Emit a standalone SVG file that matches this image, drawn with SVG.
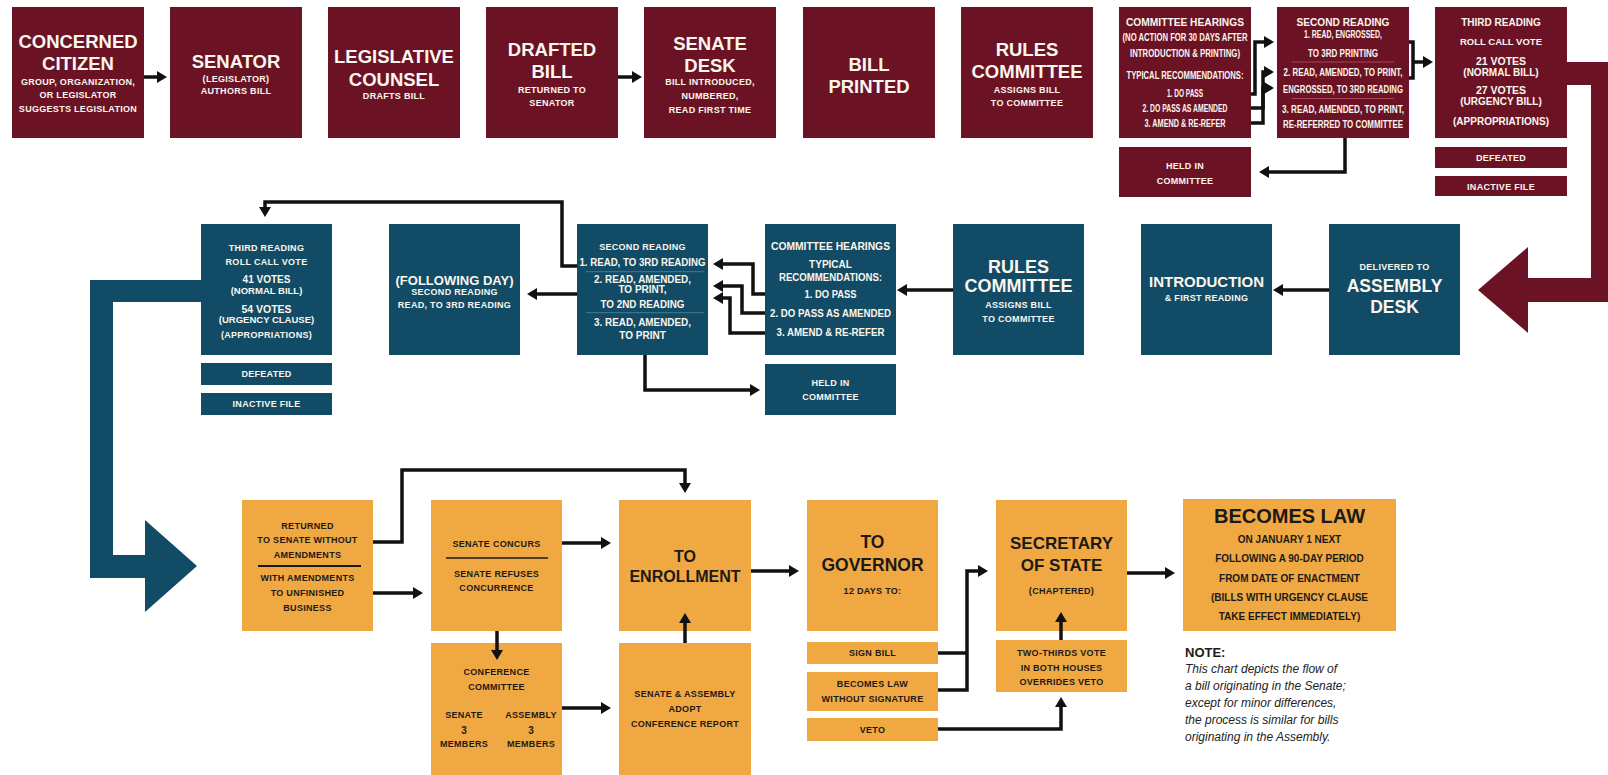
<svg xmlns="http://www.w3.org/2000/svg" width="1608" height="775" viewBox="0 0 1608 775">
<defs>
<style>
text{font-family:"Liberation Sans",Arial,sans-serif;font-weight:bold;text-anchor:middle}
.w{fill:#fbf6ee}
.k{fill:#1c1a17}
.T{font-size:18.5px}
.s{font-size:9px;letter-spacing:.3px}
.c{font-size:10px}
.m{fill:#6b1324}
.b{fill:#124b65}
.o{fill:#f0a843}
.cn path{fill:none;stroke:#111;stroke-width:3.5;stroke-linejoin:miter}
.ar{marker-end:url(#ah)}
.note{font-size:12px;font-style:italic;font-weight:normal;text-anchor:start;fill:#222}
</style>
<marker id="ah" viewBox="0 0 10 12" refX="1" refY="6" markerWidth="10" markerHeight="12" markerUnits="userSpaceOnUse" orient="auto">
<path d="M0,0 L10,6 L0,12 z" fill="#111"/>
</marker>
</defs>
<rect width="1608" height="775" fill="#fff"/>

<!-- big flow arrows -->
<path id="maroon-arrow" class="m" d="M1566,62 H1610 V302 H1528 V333 L1478,290 L1528,247 V278 H1591 V85 H1566 Z"/>
<path id="blue-arrow" class="b" d="M201,280 H90 V578 H145 V612 L197,566 L145,520 V555 H113 V302 H201 Z"/>

<!-- TOP ROW (Senate) -->
<g id="concerned-citizen"><rect class="m" x="12" y="7" width="132" height="131"/>
<text class="w T" x="78" y="48.3">CONCERNED</text><text class="w T" x="78" y="70">CITIZEN</text>
<text class="w s" x="78" y="85">GROUP, ORGANIZATION,</text><text class="w s" x="78" y="98">OR LEGISLATOR</text><text class="w s" x="78" y="112">SUGGESTS LEGISLATION</text></g>

<g id="senator"><rect class="m" x="170" y="7" width="132" height="131"/>
<text class="w T" x="236" y="67.6">SENATOR</text><text class="w s" x="236" y="81.5">(LEGISLATOR)</text><text class="w s" x="236" y="94">AUTHORS BILL</text></g>

<g id="legislative-counsel"><rect class="m" x="328" y="7" width="132" height="131"/>
<text class="w T" x="394" y="63.3">LEGISLATIVE</text><text class="w T" x="394" y="86">COUNSEL</text><text class="w s" x="394" y="99">DRAFTS BILL</text></g>

<g id="drafted-bill"><rect class="m" x="486" y="7" width="132" height="131"/>
<text class="w T" x="552" y="55.6">DRAFTED</text><text class="w T" x="552" y="78.3">BILL</text>
<text class="w s" x="552" y="93.2">RETURNED TO</text><text class="w s" x="552" y="106">SENATOR</text></g>

<g id="senate-desk"><rect class="m" x="644" y="7" width="132" height="131"/>
<text class="w T" x="710" y="50">SENATE</text><text class="w T" x="710" y="71.6">DESK</text>
<text class="w s" x="710" y="85">BILL INTRODUCED,</text><text class="w s" x="710" y="99.2">NUMBERED,</text><text class="w s" x="710" y="113.2">READ FIRST TIME</text></g>

<g id="bill-printed"><rect class="m" x="803" y="7" width="132" height="131"/>
<text class="w T" x="869" y="70.6">BILL</text><text class="w T" x="869" y="92.6">PRINTED</text></g>

<g id="senate-rules"><rect class="m" x="961" y="7" width="132" height="131"/>
<text class="w T" x="1027" y="56">RULES</text><text class="w T" x="1027" y="77.6">COMMITTEE</text>
<text class="w s" x="1027" y="92.5">ASSIGNS BILL</text><text class="w s" x="1027" y="106">TO COMMITTEE</text></g>

<g id="senate-hearings"><rect class="m" x="1119" y="7" width="132" height="131"/>
<text class="w c" x="1185" y="26" textLength="118" lengthAdjust="spacingAndGlyphs">COMMITTEE HEARINGS</text>
<text class="w c" x="1185" y="41" textLength="125" lengthAdjust="spacingAndGlyphs">(NO ACTION FOR 30 DAYS AFTER</text>
<text class="w c" x="1185" y="56.6" textLength="110" lengthAdjust="spacingAndGlyphs">INTRODUCTION &amp; PRINTING)</text>
<text class="w c" x="1185" y="79.4" textLength="117" lengthAdjust="spacingAndGlyphs">TYPICAL RECOMMENDATIONS:</text>
<text class="w c" x="1185" y="97.4" textLength="36" lengthAdjust="spacingAndGlyphs">1. DO PASS</text>
<text class="w c" x="1185" y="111.6" textLength="85" lengthAdjust="spacingAndGlyphs">2. DO PASS AS AMENDED</text>
<text class="w c" x="1185" y="126.6" textLength="81" lengthAdjust="spacingAndGlyphs">3. AMEND &amp; RE-REFER</text></g>

<g id="senate-second-reading"><rect class="m" x="1277" y="7" width="132" height="131"/>
<text class="w c" x="1343" y="26" textLength="93" lengthAdjust="spacingAndGlyphs">SECOND READING</text>
<text class="w c" x="1343" y="38.3" textLength="78" lengthAdjust="spacingAndGlyphs">1. READ, ENGROSSED,</text>
<text class="w c" x="1343" y="56.6" textLength="70" lengthAdjust="spacingAndGlyphs">TO 3RD PRINTING</text>
<line x1="1292" y1="62" x2="1394" y2="62" stroke="#b04a5c" stroke-width="0.9"/>
<text class="w c" x="1343" y="76" textLength="119" lengthAdjust="spacingAndGlyphs">2. READ, AMENDED, TO PRINT,</text>
<text class="w c" x="1343" y="92.6" textLength="120" lengthAdjust="spacingAndGlyphs">ENGROSSED, TO 3RD READING</text>
<line x1="1292" y1="98.5" x2="1394" y2="98.5" stroke="#b04a5c" stroke-width="0.9"/>
<text class="w c" x="1343" y="113.3" textLength="122" lengthAdjust="spacingAndGlyphs">3. READ, AMENDED, TO PRINT,</text>
<text class="w c" x="1343" y="128.3" textLength="120" lengthAdjust="spacingAndGlyphs">RE-REFERRED TO COMMITTEE</text></g>

<g id="senate-third-reading"><rect class="m" x="1435" y="7" width="132" height="131"/>
<text class="w" font-size="10" x="1501" y="26.3">THIRD READING</text>
<text class="w" font-size="9.5" x="1501" y="45.3">ROLL CALL VOTE</text>
<text class="w" font-size="10.5" x="1501" y="65">21 VOTES</text>
<text class="w" font-size="10" x="1501" y="76">(NORMAL BILL)</text>
<text class="w" font-size="10.5" x="1501" y="94.3">27 VOTES</text>
<text class="w" font-size="10" x="1501" y="105">(URGENCY BILL)</text>
<text class="w" font-size="10" x="1501" y="125">(APPROPRIATIONS)</text></g>

<g id="senate-held"><rect class="m" x="1119" y="147" width="132" height="50"/>
<text class="w s" x="1185" y="169">HELD IN</text><text class="w s" x="1185" y="184.3">COMMITTEE</text></g>
<g id="senate-defeated"><rect class="m" x="1435" y="147" width="132" height="21"/><text class="w s" x="1501" y="160.8">DEFEATED</text></g>
<g id="senate-inactive"><rect class="m" x="1435" y="176" width="132" height="20"/><text class="w s" x="1501" y="189.5">INACTIVE FILE</text></g>

<!-- MIDDLE ROW (Assembly) -->
<g id="assembly-third-reading"><rect class="b" x="201" y="224" width="131" height="131"/>
<text class="w s" x="266.5" y="250.5">THIRD READING</text>
<text class="w s" x="266.5" y="265">ROLL CALL VOTE</text>
<text class="w" font-size="10" x="266.5" y="283">41 VOTES</text>
<text class="w" font-size="9.5" x="266.5" y="293.5">(NORMAL BILL)</text>
<text class="w" font-size="10.5" x="266.5" y="312.5">54 VOTES</text>
<text class="w" font-size="9.5" x="266.5" y="323">(URGENCY CLAUSE)</text>
<text class="w s" x="266.5" y="338">(APPROPRIATIONS)</text></g>
<g id="assembly-defeated"><rect class="b" x="201" y="363" width="131" height="22"/><text class="w s" x="266.5" y="377.3">DEFEATED</text></g>
<g id="assembly-inactive"><rect class="b" x="201" y="393" width="131" height="22"/><text class="w s" x="266.5" y="407.3">INACTIVE FILE</text></g>

<g id="following-day"><rect class="b" x="389" y="224" width="131" height="131"/>
<text class="w" font-size="13" x="454.5" y="284.5">(FOLLOWING DAY)</text>
<text class="w s" x="454.5" y="294.5">SECOND READING</text>
<text class="w s" x="454.5" y="307.5">READ, TO 3RD READING</text></g>

<g id="assembly-second-reading"><rect class="b" x="577" y="224" width="131" height="131"/>
<text class="w s" x="642.5" y="250">SECOND READING</text>
<text class="w" font-size="10" x="642.5" y="266.3" textLength="126" lengthAdjust="spacingAndGlyphs">1. READ, TO 3RD READING</text>
<line x1="586" y1="271.7" x2="704" y2="271.7" stroke="#4b8199" stroke-width="0.9"/>
<text class="w" font-size="10" x="642.5" y="282.9" textLength="97" lengthAdjust="spacingAndGlyphs">2. READ, AMENDED,</text>
<text class="w" font-size="10" x="642.5" y="292.9">TO PRINT,</text>
<text class="w" font-size="10" x="642.5" y="307.9" textLength="84" lengthAdjust="spacingAndGlyphs">TO 2ND READING</text>
<line x1="586" y1="312.7" x2="704" y2="312.7" stroke="#4b8199" stroke-width="0.9"/>
<text class="w" font-size="10" x="642.5" y="326.3" textLength="97" lengthAdjust="spacingAndGlyphs">3. READ, AMENDED,</text>
<text class="w" font-size="10" x="642.5" y="339.3">TO PRINT</text></g>

<g id="assembly-hearings"><rect class="b" x="765" y="224" width="131" height="131"/>
<text class="w c" x="830.5" y="250" textLength="119" lengthAdjust="spacingAndGlyphs">COMMITTEE HEARINGS</text>
<text class="w" font-size="10" x="830.5" y="267.5">TYPICAL</text>
<text class="w" font-size="10" x="830.5" y="280.8" textLength="103" lengthAdjust="spacingAndGlyphs">RECOMMENDATIONS:</text>
<text class="w" font-size="10" x="830.5" y="297.5" textLength="52" lengthAdjust="spacingAndGlyphs">1. DO PASS</text>
<text class="w" font-size="10" x="830.5" y="316.8" textLength="121" lengthAdjust="spacingAndGlyphs">2. DO PASS AS AMENDED</text>
<text class="w" font-size="10" x="830.5" y="336.2" textLength="108" lengthAdjust="spacingAndGlyphs">3. AMEND &amp; RE-REFER</text></g>
<g id="assembly-held"><rect class="b" x="765" y="364" width="131" height="51"/>
<text class="w s" x="830.5" y="385.8">HELD IN</text><text class="w s" x="830.5" y="399.8">COMMITTEE</text></g>

<g id="assembly-rules"><rect class="b" x="953" y="224" width="131" height="131"/>
<text class="w" font-size="18" x="1018.5" y="273">RULES</text><text class="w" font-size="18" x="1018.5" y="292">COMMITTEE</text>
<text class="w s" x="1018.5" y="307.5">ASSIGNS BILL</text><text class="w s" x="1018.5" y="321.5">TO COMMITTEE</text></g>

<g id="introduction"><rect class="b" x="1141" y="224" width="131" height="131"/>
<text class="w" font-size="15" x="1206.5" y="287">INTRODUCTION</text>
<text class="w s" x="1206.5" y="301">&amp; FIRST READING</text></g>

<g id="assembly-desk"><rect class="b" x="1329" y="224" width="131" height="131"/>
<text class="w s" x="1394.5" y="269.7">DELIVERED TO</text>
<text class="w" font-size="17.5" x="1394.5" y="292">ASSEMBLY</text>
<text class="w" font-size="17.5" x="1394.5" y="313">DESK</text></g>

<!-- BOTTOM ROW -->
<g id="returned-to-senate"><rect class="o" x="242" y="500" width="131" height="131"/>
<text class="k s" x="307.5" y="529">RETURNED</text>
<text class="k s" x="307.5" y="543.3">TO SENATE WITHOUT</text>
<text class="k s" x="307.5" y="558.3">AMENDMENTS</text>
<line x1="258" y1="566" x2="361" y2="566" stroke="#1c1a17" stroke-width="2"/>
<text class="k s" x="307.5" y="581.3">WITH AMENDMENTS</text>
<text class="k s" x="307.5" y="596.3">TO UNFINISHED</text>
<text class="k s" x="307.5" y="611.3">BUSINESS</text></g>

<g id="senate-concurs"><rect class="o" x="431" y="500" width="131" height="131"/>
<text class="k s" x="496.5" y="547.3">SENATE CONCURS</text>
<line x1="446" y1="558" x2="548" y2="558" stroke="#1c1a17" stroke-width="1.5"/>
<text class="k s" x="496.5" y="577">SENATE REFUSES</text>
<text class="k s" x="496.5" y="591.3">CONCURRENCE</text></g>

<g id="conference-committee"><rect class="o" x="431" y="643" width="131" height="132"/>
<text class="k s" x="496.5" y="675">CONFERENCE</text>
<text class="k s" x="496.5" y="690">COMMITTEE</text>
<text class="k s" x="464" y="718.3">SENATE</text><text class="k s" x="531" y="718.3">ASSEMBLY</text>
<text class="k" font-size="10" x="464" y="733.5">3</text><text class="k" font-size="10" x="531" y="733.5">3</text>
<text class="k s" x="464" y="747.3">MEMBERS</text><text class="k s" x="531" y="747.3">MEMBERS</text></g>

<g id="to-enrollment"><rect class="o" x="619" y="500" width="132" height="131"/>
<text class="k" font-size="16" x="685" y="561.5">TO</text>
<text class="k" font-size="16" x="685" y="581.8">ENROLLMENT</text></g>

<g id="adopt-report"><rect class="o" x="619" y="643" width="132" height="132"/>
<text class="k s" x="685" y="697.3">SENATE &amp; ASSEMBLY</text>
<text class="k s" x="685" y="712.3">ADOPT</text>
<text class="k s" x="685" y="727.3">CONFERENCE REPORT</text></g>

<g id="to-governor"><rect class="o" x="807" y="500" width="131" height="131"/>
<text class="k" font-size="17.5" x="872.5" y="548">TO</text>
<text class="k" font-size="17.5" x="872.5" y="570.7">GOVERNOR</text>
<text class="k s" x="872.5" y="594.3">12 DAYS TO:</text></g>
<g id="sign-bill"><rect class="o" x="807" y="642" width="131" height="22"/><text class="k s" x="872.5" y="656.3">SIGN BILL</text></g>
<g id="law-without-signature"><rect class="o" x="807" y="672" width="131" height="39"/>
<text class="k s" x="872.5" y="687.3">BECOMES LAW</text><text class="k s" x="872.5" y="702.3">WITHOUT SIGNATURE</text></g>
<g id="veto"><rect class="o" x="807" y="718" width="131" height="23"/><text class="k s" x="872.5" y="733.3">VETO</text></g>

<g id="secretary-of-state"><rect class="o" x="996" y="500" width="131" height="131"/>
<text class="k" font-size="17" x="1061.5" y="548.5">SECRETARY</text>
<text class="k" font-size="17" x="1061.5" y="570.5">OF STATE</text>
<text class="k s" x="1061.5" y="594">(CHAPTERED)</text></g>
<g id="override"><rect class="o" x="996" y="640" width="131" height="52"/>
<text class="k s" x="1061.5" y="656">TWO-THIRDS VOTE</text>
<text class="k s" x="1061.5" y="670.6">IN BOTH HOUSES</text>
<text class="k s" x="1061.5" y="685.3">OVERRIDES VETO</text></g>

<g id="becomes-law"><rect class="o" x="1183" y="499" width="213" height="132"/>
<text class="k" font-size="20" x="1289.5" y="523">BECOMES LAW</text>
<text class="k" font-size="10" x="1289.5" y="543">ON JANUARY 1 NEXT</text>
<text class="k" font-size="10" x="1289.5" y="562.3">FOLLOWING A 90-DAY PERIOD</text>
<text class="k" font-size="10" x="1289.5" y="581.6">FROM DATE OF ENACTMENT</text>
<text class="k" font-size="10" x="1289.5" y="600.6">(BILLS WITH URGENCY CLAUSE</text>
<text class="k" font-size="10" x="1289.5" y="620">TAKE EFFECT IMMEDIATELY)</text></g>

<g id="note">
<text x="1185" y="656.5" font-size="13" style="text-anchor:start" fill="#1c1a17">NOTE:</text>
<text class="note" x="1185" y="673">This chart depicts the flow of</text>
<text class="note" x="1185" y="690">a bill originating in the Senate;</text>
<text class="note" x="1185" y="707">except for minor differences,</text>
<text class="note" x="1185" y="724">the process is similar for bills</text>
<text class="note" x="1185" y="741">originating in the Assembly.</text>
</g>

<!-- CONNECTORS -->
<g id="connectors" class="cn">
<path class="ar" d="M144,77 H158"/>
<path class="ar" d="M618,77 H633"/>
<path class="ar" d="M1251,94 H1255 V42 H1265"/>
<path class="ar" d="M1251,108 H1263 V72 H1265"/>
<path class="ar" d="M1251,123 H1263 V88 H1265"/>
<path d="M1409,42 H1413 V78 H1409"/>
<path class="ar" d="M1413,62 H1424"/>
<path class="ar" d="M1345,138 V172 H1268"/>

<path class="ar" d="M1329,290 H1282"/>
<path class="ar" d="M953,290 H906"/>
<path class="ar" d="M765,294 H753 V264 H722"/>
<path class="ar" d="M765,313 H742 V286 H722"/>
<path class="ar" d="M765,333 H730 V298 H722"/>
<path class="ar" d="M577,294 H536"/>
<path class="ar" d="M577,266 H562 V202 H265 V208"/>
<path class="ar" d="M645,355 V390 H751"/>

<path class="ar" d="M373,542 H402 V470 H685 V484"/>
<path class="ar" d="M373,593 H414"/>
<path class="ar" d="M562,543 H602"/>
<path class="ar" d="M497,631 V651"/>
<path class="ar" d="M562,708 H602"/>
<path class="ar" d="M685,643 V622"/>
<path class="ar" d="M751,571 H790"/>
<path d="M938,653 H967"/>
<path class="ar" d="M938,690 H967 V571 H979"/>
<path class="ar" d="M938,729 H1061 V706"/>
<path class="ar" d="M1061,640 V621"/>
<path class="ar" d="M1127,573 H1166"/>
</g>
</svg>
